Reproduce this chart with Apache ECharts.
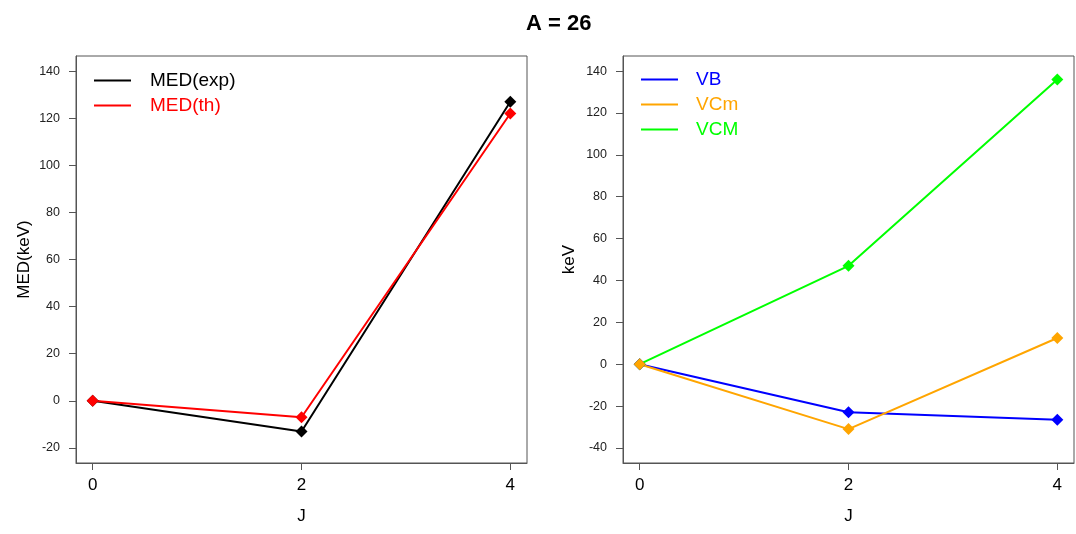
<!DOCTYPE html>
<html>
<head>
<meta charset="utf-8">
<script src="https://cdn.jsdelivr.net/npm/echarts@6/dist/echarts.min.js"></script>
<style>html,body{margin:0;padding:0;background:#fff}#c{width:1076px;height:534px}</style>
</head>
<body>
<div id="c"></div>
<script>
const J = [0, 2, 4];
const xTicks = [0, 2, 4];
const medExp = [0, -13, 127];
const medTh = [0, -7, 122];
const VB = [0, -23, -26.5];
const VCm = [0, -31, 12.5];
const VCM = [0, 47, 136];
const yTicksLeft = [-20, 0, 20, 40, 60, 80, 100, 120, 140];
const yTicksRight = [-40, -20, 0, 20, 40, 60, 80, 100, 120, 140];

const FONT = 'Liberation Sans, Arial, sans-serif';
const pts = arr => J.map((j, i) => [j, arr[i]]);

function xAx(idx) {
  return {
    type: 'value', gridIndex: idx, min: -0.16, max: 4.16,
    name: 'J', nameLocation: 'middle', nameGap: 45,
    nameTextStyle: { fontSize: 17, color: '#000', fontFamily: FONT },
    axisLine: { show: true, onZero: false, lineStyle: { color: '#555', width: 1 } },
    axisTick: { show: true, length: 7, inside: false, customValues: xTicks, lineStyle: { color: '#555' } },
    axisLabel: { customValues: xTicks, margin: 14, fontSize: 17, color: '#000', fontFamily: FONT },
    splitLine: { show: false }
  };
}
function yAx(idx, name, min, max, ticks, gap) {
  return {
    type: 'value', gridIndex: idx, min: min, max: max,
    name: name, nameLocation: 'middle', nameGap: gap,
    nameTextStyle: { fontSize: 17, color: '#000', fontFamily: FONT },
    axisLine: { show: true, onZero: false, lineStyle: { color: '#555', width: 1 } },
    axisTick: { show: true, length: 7, inside: false, customValues: ticks, lineStyle: { color: '#555' } },
    axisLabel: { customValues: ticks, margin: 16, fontSize: 12.5, color: '#222', fontFamily: FONT },
    splitLine: { show: false }
  };
}
function ser(name, arr, color, idx) {
  return {
    name: name, type: 'line', xAxisIndex: idx, yAxisIndex: idx,
    data: pts(arr), symbol: 'diamond', symbolSize: 12, showSymbol: true,
    lineStyle: { color: color, width: 2 }, itemStyle: { color: color },
    emphasis: { disabled: true }, animation: false
  };
}
function legendItem(name, color) {
  return { name: name, itemStyle: { color: color }, textStyle: { color: color } };
}

const chart = echarts.init(document.getElementById('c'), null, { renderer: 'canvas' });
chart.setOption({
  animation: false,
  backgroundColor: '#fff',
  title: {
    text: 'A = 26', left: 526, top: 13, padding: 0,
    textStyle: { fontSize: 22, fontWeight: 'bold', color: '#000', fontFamily: FONT }
  },
  grid: [
    { left: 76, top: 56, width: 451, height: 407, show: true, borderColor: '#555', borderWidth: 1, backgroundColor: 'transparent' },
    { left: 623, top: 56, width: 451, height: 407, show: true, borderColor: '#555', borderWidth: 1, backgroundColor: 'transparent' }
  ],
  xAxis: [xAx(0), xAx(1)],
  yAxis: [
    yAx(0, 'MED(keV)', -26.4, 146.4, yTicksLeft, 43),
    yAx(1, 'keV', -47.2, 147.2, yTicksRight, 45)
  ],
  legend: [
    {
      left: 94, top: 71, padding: 0, orient: 'vertical', itemGap: 6, itemWidth: 37, itemHeight: 2, icon: 'rect',
      selectedMode: false,
      textStyle: { fontSize: 19, fontFamily: FONT, padding: [0, 0, 0, 14] },
      data: [legendItem('MED(exp)', '#000'), legendItem('MED(th)', '#FF0000')]
    },
    {
      left: 641, top: 70, padding: 0, orient: 'vertical', itemGap: 6, itemWidth: 37, itemHeight: 2, icon: 'rect',
      selectedMode: false,
      textStyle: { fontSize: 19, fontFamily: FONT, padding: [0, 0, 0, 13] },
      data: [legendItem('VB', '#0000FF'), legendItem('VCm', '#FFA500'), legendItem('VCM', '#00FF00')]
    }
  ],
  series: [
    ser('MED(exp)', medExp, '#000000', 0),
    ser('MED(th)', medTh, '#FF0000', 0),
    ser('VCM', VCM, '#00FF00', 1),
    ser('VB', VB, '#0000FF', 1),
    ser('VCm', VCm, '#FFA500', 1)
  ]
});
</script>
</body>
</html>
